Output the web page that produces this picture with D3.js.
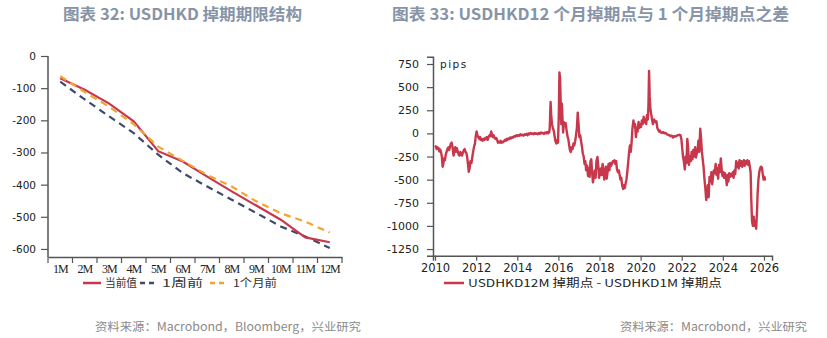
<!DOCTYPE html>
<html>
<head>
<meta charset="utf-8">
<script src="https://cdn.jsdelivr.net/npm/d3@7/dist/d3.min.js"></script>
<style>
  html, body { margin: 0; padding: 0; background: #fff; }
  svg { display: block; }
</style>
</head>
<body>
<svg id="chart" width="827" height="338"></svg>
<script>
// ---- Term structure (left panel) ----
const tenors = ["1M","2M","3M","4M","5M","6M","7M","8M","9M","10M","11M","12M"];
const current = [-69,-105,-148,-203,-296,-328,-375,-421,-465,-509,-564,-579];
const weekAgo = [-80,-135,-188,-240,-307,-364,-406,-447,-488,-530,-561,-597];
const monthAgo = [-63,-112,-158,-212,-282,-326,-370,-406,-452,-489,-515,-549];
const termTicks = [0,-100,-200,-300,-400,-500,-600];

// ---- 12M minus 1M swap points (right panel) ----
const spreadDates = [
  2010.00,2010.04,2010.08,2010.12,2010.17,2010.21,2010.25,2010.29,2010.33,2010.37,2010.40,2010.44,2010.48,2010.52,2010.56,2010.60,2010.65,2010.69,2010.73,2010.77,2010.81,2010.85,2010.90,2010.94,2010.98,
  2011.02,2011.06,2011.10,2011.15,2011.19,2011.23,2011.27,2011.31,2011.35,2011.40,2011.44,2011.48,2011.52,2011.56,2011.60,2011.64,2011.68,2011.72,2011.77,2011.81,2011.85,2011.90,2011.94,2011.98,
  2012.02,2012.06,2012.10,2012.15,2012.19,2012.23,2012.27,2012.31,2012.35,2012.40,2012.44,2012.48,2012.52,2012.56,2012.60,2012.65,2012.69,2012.73,2012.77,2012.81,2012.85,2012.90,2012.94,2012.98,
  2013.02,2013.06,2013.10,2013.15,2013.19,2013.23,2013.27,2013.31,2013.35,2013.40,2013.44,2013.48,2013.52,2013.56,2013.60,2013.65,2013.70,2013.75,2013.80,2013.85,2013.90,2013.95,
  2014.00,2014.05,2014.10,2014.15,2014.20,2014.25,2014.30,2014.35,2014.40,2014.45,2014.50,2014.55,2014.60,2014.65,2014.70,2014.75,2014.80,2014.85,2014.90,2014.95,
  2015.00,2015.05,2015.10,2015.15,2015.20,2015.25,2015.30,2015.35,2015.40,2015.45,2015.50,2015.55,2015.58,2015.62,2015.65,2015.69,2015.73,2015.77,2015.81,2015.85,2015.90,2015.94,2015.98,
  2016.02,2016.05,2016.08,2016.11,2016.14,2016.17,2016.20,2016.23,2016.27,2016.31,2016.35,2016.40,2016.44,2016.48,2016.52,2016.56,2016.60,2016.65,2016.69,2016.73,2016.77,2016.81,2016.85,2016.90,2016.94,2016.98,
  2017.02,2017.06,2017.10,2017.15,2017.19,2017.23,2017.27,2017.31,2017.35,2017.40,2017.44,2017.48,2017.52,2017.56,2017.60,2017.64,2017.68,2017.73,2017.77,2017.81,2017.85,2017.90,2017.94,2017.98,
  2018.02,2018.06,2018.10,2018.15,2018.19,2018.23,2018.27,2018.31,2018.35,2018.40,2018.44,2018.48,2018.52,2018.56,2018.60,2018.65,2018.69,2018.73,2018.77,2018.81,2018.85,2018.90,2018.94,2018.98,
  2019.02,2019.06,2019.10,2019.15,2019.19,2019.23,2019.27,2019.31,2019.35,2019.40,2019.44,2019.48,2019.52,2019.56,2019.60,2019.65,2019.69,2019.73,2019.77,2019.81,2019.85,2019.90,2019.94,2019.98,
  2020.02,2020.06,2020.10,2020.15,2020.19,2020.23,2020.27,2020.31,2020.35,2020.38,2020.41,2020.44,2020.48,2020.52,2020.56,2020.60,2020.65,2020.69,2020.73,2020.77,2020.81,2020.85,2020.90,2020.94,2020.98,
  2021.04,2021.10,2021.16,2021.22,2021.28,2021.34,2021.40,2021.46,2021.52,2021.58,2021.64,2021.70,2021.76,2021.82,2021.88,2021.94,2021.98,
  2022.02,2022.06,2022.10,2022.15,2022.19,2022.23,2022.27,2022.31,2022.35,2022.40,2022.44,2022.48,2022.52,2022.56,2022.60,2022.65,2022.69,2022.73,2022.77,2022.81,2022.85,2022.90,2022.94,2022.98,
  2023.02,2023.06,2023.10,2023.15,2023.19,2023.23,2023.27,2023.31,2023.35,2023.40,2023.44,2023.48,2023.52,2023.56,2023.60,2023.65,2023.69,2023.73,2023.77,2023.81,2023.85,2023.90,2023.94,2023.98,
  2024.02,2024.06,2024.10,2024.15,2024.19,2024.23,2024.27,2024.31,2024.35,2024.40,2024.44,2024.48,2024.52,2024.56,2024.60,2024.65,2024.69,2024.73,2024.77,2024.81,2024.85,2024.90,2024.94,2024.98,
  2025.02,2025.06,2025.10,2025.15,2025.19,2025.23,2025.27,2025.31,2025.35,2025.38,2025.42,2025.46,2025.50,2025.54,2025.58,2025.62,2025.66,2025.69,2025.73,2025.77,2025.81,2025.85,2025.90,2025.94,2025.98,
  2026.02,2026.06
];
const spreadPips = [
  -150,-140,-170,-150,-160,-195,-175,-200,-250,-360,-330,-270,-290,-230,-200,-170,-150,-180,-140,-110,-100,-150,-240,-180,-150,
  -200,-160,-190,-230,-240,-200,-220,-240,-210,-180,-170,-200,-210,-250,-330,-415,-380,-300,-320,-260,-200,-140,-110,-30,
  20,-20,-40,-60,-40,-70,-60,-80,-60,-70,-50,-60,-40,-70,-40,-20,-30,20,-10,-40,-20,-50,-60,-50,
  -70,-100,-90,-100,-80,-100,-90,-95,-85,-70,-80,-60,-70,-55,-60,-45,-55,-40,-45,-30,-35,-20,
  -30,-20,-25,-10,-20,-15,-25,-10,-15,-5,-20,0,-10,5,-5,0,-10,5,-5,0,
  -10,5,-5,10,0,5,-5,10,0,15,0,10,60,340,200,100,60,30,-20,-80,-110,-70,-100,
  200,660,600,350,100,320,150,10,120,90,110,30,-30,-60,-120,-180,-200,-150,-170,-110,-130,-90,-30,60,225,100,
  -40,-20,-80,-150,-220,-250,-330,-300,-400,-350,-460,-380,-470,-300,-280,-420,-530,-460,-400,-480,-300,-255,-350,-480,
  -420,-380,-450,-330,-400,-500,-420,-360,-490,-400,-330,-400,-320,-350,-330,-300,-310,-290,-330,-300,-390,-420,-400,-450,
  -500,-480,-560,-600,-560,-590,-540,-500,-420,-300,-200,-130,-200,-100,50,140,80,100,-40,60,20,125,60,100,
  70,140,100,180,120,150,100,200,150,300,675,400,250,200,140,100,150,140,120,130,60,40,20,30,10,
  5,15,0,5,-10,-15,-20,-30,-25,-45,-30,-35,-25,-20,-15,-20,-60,
  -150,-250,-300,-390,-250,-320,-60,-150,-340,-250,-300,-200,-280,-180,-250,-150,-260,-220,-180,-80,-200,50,-50,-200,
  -280,-360,-480,-600,-720,-660,-560,-690,-470,-520,-420,-550,-470,-400,-430,-330,-450,-380,-490,-340,-420,-270,-380,-460,
  -420,-480,-430,-470,-560,-450,-520,-430,-470,-440,-460,-420,-480,-400,-440,-300,-360,-320,-380,-290,-350,-300,-360,-320,
  -290,-350,-300,-330,-290,-340,-300,-360,-420,-700,-950,-1000,-900,-1000,-950,-1030,-850,-650,-500,-420,-380,-360,-370,-440,-500,
  -470,-510
];
const spreadTicks = [750,500,250,0,-250,-500,-750,-1000,-1250];
const yearTicks = [2010,2012,2014,2016,2018,2020,2022,2024,2026];

const RED = "#c8384c", NAVY = "#3f4a6b", ORANGE = "#f2a431";
const TITLE = "#8794a8", AXIS = "#555";
const SANS = "'DejaVu Sans', 'Noto Sans', sans-serif";
const CJK = "'Noto Sans CJK SC', 'Noto Sans', sans-serif";
const plain = d => String(d); // hyphen-minus for negative tick labels

const svg = d3.select("#chart");

// Titles
svg.append("text").attr("x", 63).attr("y", 20).attr("textLength", 239).attr("lengthAdjust", "spacingAndGlyphs")
  .attr("font-family", CJK).attr("font-weight", 700).attr("font-size", 16).attr("fill", TITLE)
  .text("图表 32: USDHKD 掉期期限结构");
svg.append("text").attr("x", 392).attr("y", 20).attr("textLength", 397).attr("lengthAdjust", "spacingAndGlyphs")
  .attr("font-family", CJK).attr("font-weight", 700).attr("font-size", 16).attr("fill", TITLE)
  .text("图表 33: USDHKD12 个月掉期点与 1 个月掉期点之差");

// Sources
svg.append("text").attr("x", 95).attr("y", 331).attr("textLength", 266).attr("lengthAdjust", "spacingAndGlyphs")
  .attr("font-family", CJK).attr("font-size", 11.5).attr("fill", "#8a8a8a")
  .text("资料来源：Macrobond，Bloomberg，兴业研究");
svg.append("text").attr("x", 620).attr("y", 331).attr("textLength", 187).attr("lengthAdjust", "spacingAndGlyphs")
  .attr("font-family", CJK).attr("font-size", 11.5).attr("fill", "#8a8a8a")
  .text("资料来源：Macrobond，兴业研究");

function styleAxis(g) {
  g.selectAll(".domain").attr("stroke", AXIS).attr("stroke-width", 1.5);
  g.selectAll(".tick line").attr("stroke", AXIS).attr("stroke-width", 1.2);
  g.selectAll(".tick text").attr("fill", "#222");
}

// ---- Left panel ----
{
  const x = d3.scaleBand().domain(tenors).range([48, 342]);
  const y = d3.scaleLinear().domain([-625, 0]).range([257, 56]);

  const gy = svg.append("g").attr("transform", "translate(48,0)")
    .call(d3.axisLeft(y).tickValues(termTicks).tickSize(7).tickPadding(5).tickFormat(plain));
  gy.select(".domain").attr("d", `M0,${y(0)}V${y(-625)}`);
  gy.selectAll(".tick text").attr("font-family", SANS).attr("font-size", 10.5);
  styleAxis(gy);

  const gx = svg.append("g").attr("transform", `translate(0,${y(-625)})`)
    .call(d3.axisBottom(x).tickSize(0).tickPadding(7));
  gx.selectAll(".tick text").attr("font-family", "'Liberation Serif', serif").attr("font-size", 12)
    .attr("letter-spacing", -1);
  // boundary ticks between tenors
  gx.selectAll(".sep").data(d3.range(tenors.length + 1)).join("line")
    .attr("class", "sep")
    .attr("x1", i => 48 + i * x.step()).attr("x2", i => 48 + i * x.step())
    .attr("y1", 0).attr("y2", 6);
  styleAxis(gx);
  gx.selectAll(".sep").attr("stroke", AXIS).attr("stroke-width", 1.2);

  const line = d3.line().x((d, i) => x(tenors[i]) + x.bandwidth() / 2).y(d => y(d));
  const series = [
    { v: weekAgo, c: NAVY, dash: "7,5" },
    { v: current, c: RED, dash: null },
    { v: monthAgo, c: ORANGE, dash: "7,5" }
  ];
  series.forEach(s => {
    svg.append("path").datum(s.v).attr("d", line).attr("fill", "none")
      .attr("stroke", s.c).attr("stroke-width", 2.2)
      .attr("stroke-dasharray", s.dash);
  });

  // legend
  const lg = svg.append("g").attr("font-family", CJK).attr("font-size", 11).attr("fill", "#333");
  const items = [
    { t: "当前值", c: RED, dash: null, x0: 83, tx: 105, tl: 32 },
    { t: "1周前", c: NAVY, dash: "5,4", x0: 140, tx: 162, tl: 41 },
    { t: "1个月前", c: ORANGE, dash: "5,4", x0: 210, tx: 233, tl: 44 }
  ];
  items.forEach(it => {
    lg.append("line").attr("x1", it.x0).attr("x2", it.x0 + 18).attr("y1", 283).attr("y2", 283)
      .attr("stroke", it.c).attr("stroke-width", 2.5).attr("stroke-dasharray", it.dash);
    lg.append("text").attr("x", it.tx).attr("y", 287).attr("textLength", it.tl)
      .attr("lengthAdjust", "spacingAndGlyphs").text(it.t);
  });
}

// ---- Right panel ----
{
  const x = d3.scaleLinear().domain([2009.9, 2026.39]).range([433, 772]);
  const y = d3.scaleLinear().domain([-1322, 829]).range([255.7, 56.7]);

  const gy = svg.append("g").attr("transform", "translate(433,0)")
    .call(d3.axisLeft(y).tickValues(spreadTicks).tickSize(6).tickPadding(8).tickFormat(plain));
  gy.selectAll(".tick text").attr("font-family", SANS).attr("font-size", 11);
  styleAxis(gy);

  const gx = svg.append("g").attr("transform", `translate(0,${y(-1322)})`)
    .call(d3.axisBottom(x).tickValues(yearTicks).tickSize(5).tickPadding(3).tickFormat(plain));
  gx.selectAll(".tick text").attr("font-family", SANS).attr("font-size", 11.5);
  styleAxis(gx);

  svg.append("text").attr("x", 440).attr("y", 68).attr("font-family", SANS).attr("font-size", 10.5)
    .attr("letter-spacing", 1.5).attr("fill", "#222").text("pips");

  const pts = spreadDates.map((d, i) => [d, spreadPips[i]]);
  svg.append("path").datum(pts)
    .attr("d", d3.line().x(d => x(d[0])).y(d => y(d[1])))
    .attr("fill", "none").attr("stroke", RED).attr("stroke-width", 2.4)
    .attr("stroke-linejoin", "round");

  svg.append("line").attr("x1", 444).attr("x2", 464).attr("y1", 283).attr("y2", 283)
    .attr("stroke", RED).attr("stroke-width", 2.5);
  svg.append("text").attr("x", 468).attr("y", 287).attr("textLength", 254)
    .attr("lengthAdjust", "spacingAndGlyphs")
    .attr("font-family", CJK).attr("font-size", 11).attr("fill", "#222")
    .text("USDHKD12M 掉期点 - USDHKD1M 掉期点");
}
</script>
</body>
</html>
